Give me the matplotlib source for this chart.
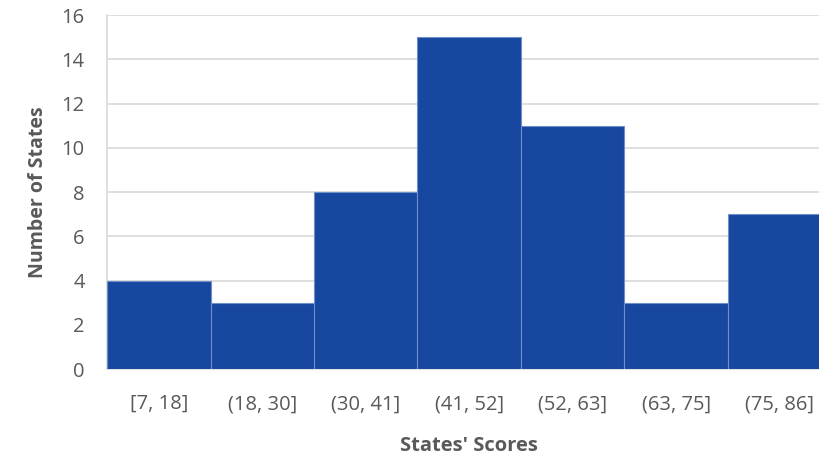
import matplotlib
matplotlib.use("Agg")
import matplotlib.pyplot as plt

categories = ["[7, 18]", "(18, 30]", "(30, 41]", "(41, 52]", "(52, 63]", "(63, 75]", "(75, 86]"]
counts = [4, 3, 8, 15, 11, 3, 7]
y_ticks = [0, 2, 4, 6, 8, 10, 12, 14, 16]

plt.rcParams['font.family'] = ['Open Sans', 'DejaVu Sans']

fig = plt.figure(figsize=(8.2, 4.59), dpi=100)
ax = fig.add_axes([0.1305, 0.196, 0.8835, 0.771])

x = range(len(categories))
ax.bar(x, counts, width=1.0, color="#17479E", edgecolor="#6F8FCB", linewidth=0.8, zorder=3)

ax.set_xlim(-0.5, len(categories) - 0.5)
ax.set_ylim(0, 16)
ax.set_yticks(y_ticks)
ax.set_xticks(list(x))
ax.set_xticklabels(categories)
ax.grid(axis="y", color="#D9D9D9", linewidth=1.2, zorder=0)
ax.set_axisbelow(True)

for s in ["top", "right"]:
    ax.spines[s].set_visible(False)
ax.spines["left"].set_color("#D9D9D9")
ax.spines["left"].set_linewidth(1.2)
ax.spines["bottom"].set_color("#D9D9D9")
ax.spines["bottom"].set_linewidth(1.2)
ax.tick_params(length=0, labelsize=14.5, labelcolor="#595959")
ax.tick_params(axis="x", pad=18)
ax.tick_params(axis="y", pad=16)

ax.set_xlabel("States' Scores", fontsize=14.5, fontweight="bold", color="#595959", labelpad=16)
ax.set_ylabel("Number of States", fontsize=14, fontweight="bold", color="#595959", labelpad=10)

fig.savefig("out.png", dpi=100)
